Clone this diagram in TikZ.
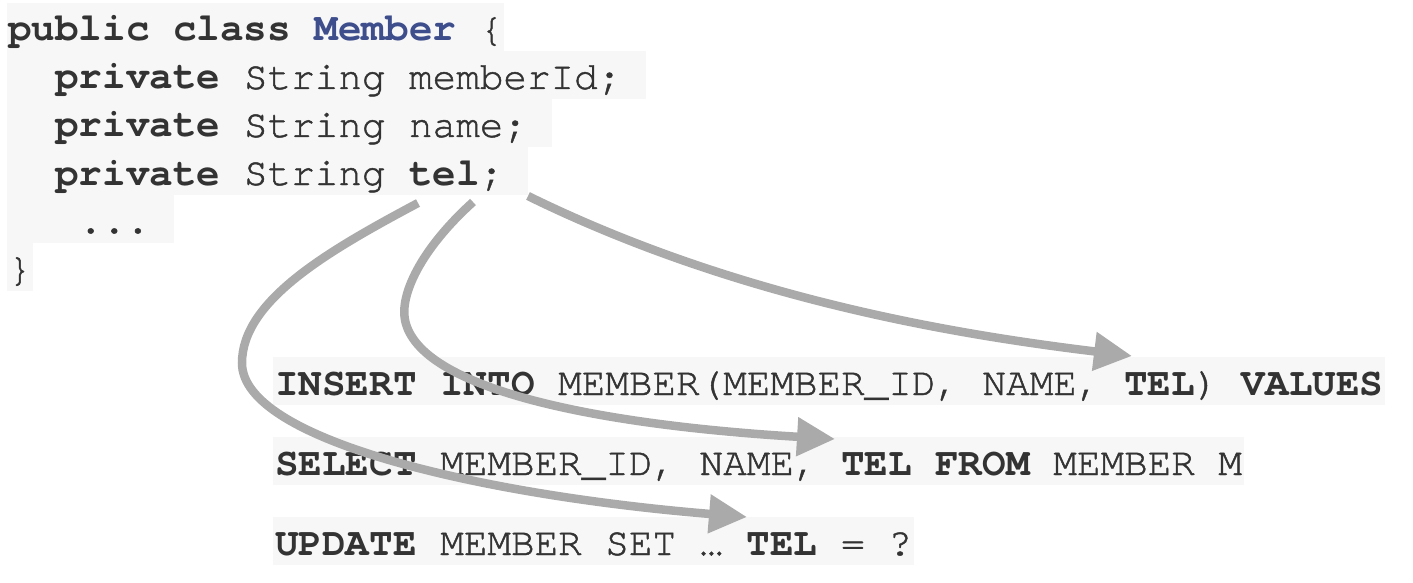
\documentclass[tikz,border=0pt]{standalone}
\usepackage{fontspec}
\usetikzlibrary{arrows.meta}
\newfontfamily\codefont{texgyrecursor}[Extension=.otf, UprightFont=*-regular, BoldFont=*-bold,
  UprightFeatures={FakeBold=1.2}]
\definecolor{codebg}{HTML}{F7F7F7}
\definecolor{codeink}{HTML}{333333}
\definecolor{typeblue}{RGB}{62,78,140}
\definecolor{flowgray}{HTML}{AAAAAA}
\frenchspacing
% one monospace cell of padding at the end of a line
\newcommand{\padcell}{\hphantom{x}}
\begin{document}
\begin{tikzpicture}[x=1pt,y=-1pt,
  codeline/.style={anchor=base west, fill=codebg, inner xsep=1pt, inner ysep=0pt,
    text height=38pt, text depth=10pt, text=codeink,
    font=\codefont\fontsize{39.3}{48}\selectfont},
  sqlline/.style={codeline, inner xsep=2pt},
  flow/.style={draw=flowgray, line width=8.5pt, -{Triangle[length=38pt,width=37pt]}}]
\useasboundingbox (0,0) rectangle (1413,583);

% Java class
\node[codeline] (cls)   at (7,41)  {{\bfseries public class \textcolor{typeblue}{Member}} \{};
\node[codeline] (mid)   at (7,89)  {\ \ {\bfseries private} String memberId;\padcell};
\node[codeline] (mname) at (7,137) {\ \ {\bfseries private} String name;\padcell};
\node[codeline] (mtel)  at (7,185) {\ \ {\bfseries private} String {\bfseries tel};\padcell};
\node[codeline] (more)  at (7,233) {\ \ \ ...\padcell};
\node[codeline] (close) at (7,281) {\}};

% SQL statements
\node[sqlline] (ins) at (273,395) {{\bfseries INSERT INTO} MEMBER(MEMBER\_ID, NAME, {\bfseries TEL}) {\bfseries VALUES}};
\node[sqlline] (sel) at (273,475) {{\bfseries SELECT} MEMBER\_ID, NAME, {\bfseries TEL FROM} MEMBER M};
\node[sqlline] (upd) at (273,555) {{\bfseries UPDATE} MEMBER SET … {\bfseries TEL} = ?};

% field -> column arrows
\coordinate (f1) at (528,196);
\coordinate (t1) at (1132,356);
\coordinate (f2) at (473,202);
\coordinate (t2) at (835,439);
\coordinate (f3) at (418,203);
\coordinate (t3) at (747,517);

\draw[flow] (f1) .. controls (740,300) and (960,335) .. (t1);
\draw[flow] (f2) .. controls (420,250) and (400,295) .. (405,320)
                 .. controls (419,390) and (600,425) .. (t2);
\draw[flow] (f3) .. controls (330,250) and (242,300) .. (242,363)
                 .. controls (242,440) and (480,495) .. (t3);
\end{tikzpicture}
\end{document}
